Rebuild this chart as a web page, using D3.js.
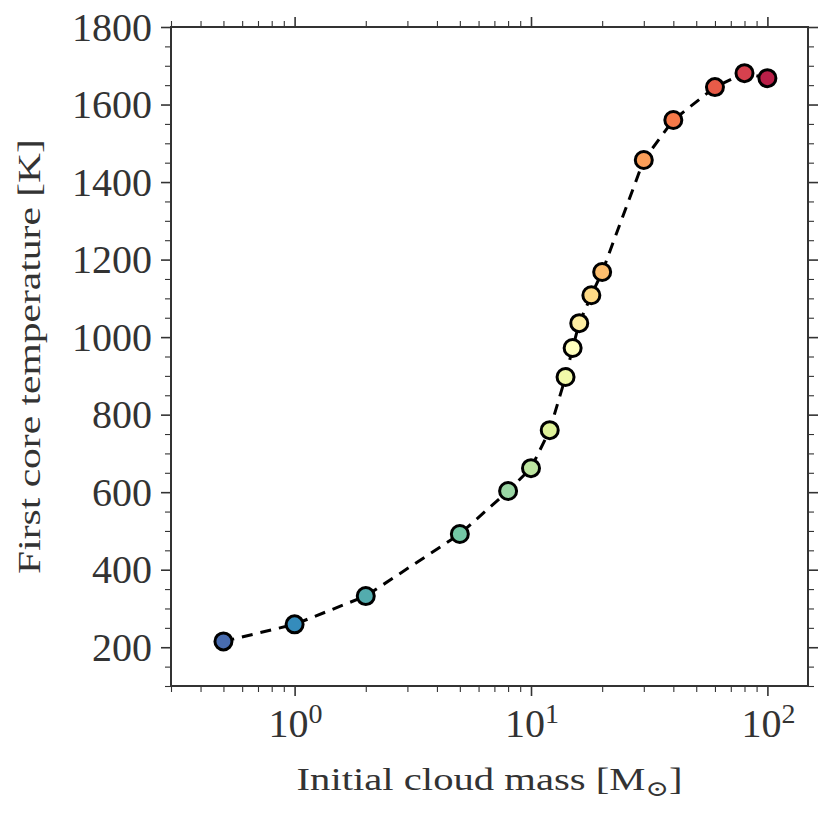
<!DOCTYPE html>
<html>
<head>
<meta charset="utf-8">
<script src="https://cdn.jsdelivr.net/npm/d3@7"></script>
<style>
  html, body { margin: 0; padding: 0; background: #fff; }
  svg { display: block; }
  text { font-family: "Liberation Serif", "DejaVu Serif", serif; fill: #333; }
</style>
</head>
<body>
<div id="chart"></div>
<script>
// ---- data ----
const masses = [0.5, 1, 2, 5, 8, 10, 12, 14, 15, 16, 18, 20, 30, 40, 60, 80, 100];
const temps  = [215, 259, 332, 492, 603, 662, 760, 897, 972, 1036, 1108, 1168, 1457, 1560, 1645, 1681, 1668];
const xMajorTicks = [1, 10, 100];
const xTickExponents = ["0", "1", "2"];
const yMajorTicks = [200, 400, 600, 800, 1000, 1200, 1400, 1600, 1800];
const xLabel = "Initial cloud mass [M";
const xLabelSub = "\u2299";
const yLabel = "First core temperature [K]";

// ---- layout ----
const W = 830, H = 819;
const L = 171, R = 808, T = 27, B = 686;
const ink = "#333";

const svg = d3.select("#chart").append("svg").attr("width", W).attr("height", H);

const x = d3.scaleLog().domain([0.3, 148.5]).range([L, R]);
const y = d3.scaleLinear().domain([100, 1800]).range([B, T]);

// matplotlib Spectral stops (reversed usage)
const spectral = ["#9e0142","#d53e4f","#f46d43","#fdae61","#fee08b","#ffffbf","#e6f598","#abdda4","#66c2a5","#3288bd","#5e4fa2"];
const spec = d3.piecewise(d3.interpolateRgb, spectral);
const n = masses.length;
const color = i => spec(1 - (0.05 + 0.9 * i / (n - 1)));

// minor ticks
const xMinor = [];
for (let e = -1; e <= 2; e++) for (let k = 2; k <= 9; k++) {
  const v = k * Math.pow(10, e);
  if (v >= 0.3 && v <= 148.5) xMinor.push(v);
}
const yMinor = d3.range(100, 1801, 50).filter(v => v % 200 !== 0);

// axes via d3 axis generators
const mk = (gen, tr) => svg.append("g").attr("transform", tr).call(gen);
const styleAxis = g => {
  g.select(".domain").remove();
  g.selectAll("line").attr("stroke", ink).attr("stroke-width", 1.6);
  g.selectAll("text").remove();
};
styleAxis(mk(d3.axisBottom(x).tickValues(xMajorTicks).tickSize(10), `translate(0,${B})`));
styleAxis(mk(d3.axisTop(x).tickValues(xMajorTicks).tickSize(10), `translate(0,${T})`));
styleAxis(mk(d3.axisLeft(y).tickValues(yMajorTicks).tickSize(10), `translate(${L},0)`));
styleAxis(mk(d3.axisRight(y).tickValues(yMajorTicks).tickSize(10), `translate(${R},0)`));
const styleMinor = g => { styleAxis(g); g.selectAll("line").attr("stroke-width", 1.1); };
styleMinor(mk(d3.axisBottom(x).tickValues(xMinor).tickSize(6), `translate(0,${B})`));
styleMinor(mk(d3.axisTop(x).tickValues(xMinor).tickSize(6), `translate(0,${T})`));
styleMinor(mk(d3.axisLeft(y).tickValues(yMinor).tickSize(6), `translate(${L},0)`));
styleMinor(mk(d3.axisRight(y).tickValues(yMinor).tickSize(6), `translate(${R},0)`));

// frame
svg.append("rect").attr("x", L).attr("y", T).attr("width", R - L).attr("height", B - T)
  .attr("fill", "none").attr("stroke", ink).attr("stroke-width", 2);

// y tick labels
svg.append("g").selectAll("text").data(yMajorTicks).join("text")
  .attr("x", L - 19).attr("y", d => y(d) + 13.5)
  .attr("text-anchor", "end").attr("font-size", 40).attr("fill", "#3a3a3a").text(d => d);

// x tick labels 10^n
const xl = svg.append("g").selectAll("text").data(xMajorTicks).join("text")
  .attr("x", d => x(d) + 1).attr("y", B + 51)
  .attr("text-anchor", "middle").attr("font-size", 40).attr("fill", "#3a3a3a");
xl.append("tspan").text("10");
xl.append("tspan").attr("dy", -14).attr("font-size", 28).text((d, i) => xTickExponents[i]);

// axis labels (stretched horizontally to match wider reference face)
function fitWidth(sel, cx, target) {
  const bb = sel.node().getBBox();
  const s = target / bb.width;
  sel.attr("transform", `translate(${cx},0) scale(${s},1) translate(${-cx},0)`);
}
const xt = svg.append("text").attr("x", 489.5).attr("y", 790)
  .attr("text-anchor", "middle").attr("font-size", 32).attr("fill", "#222");
xt.append("tspan").text(xLabel);
xt.append("tspan").attr("dy", 6).attr("font-size", 22).attr("font-family", "DejaVu Serif").text(xLabelSub);
xt.append("tspan").attr("dy", -6).text("]");
fitWidth(xt, 489.5, 386);

const ytG = svg.append("g").attr("transform", `translate(40,${(T + B) / 2}) rotate(-90)`);
const yt = ytG.append("text").attr("x", 0).attr("y", 0)
  .attr("text-anchor", "middle").attr("font-size", 32).attr("fill", "#222").text(yLabel);
fitWidth(yt, 0, 435);

// dashed line
const line = d3.line().x((d, i) => x(masses[i])).y(d => y(d));
svg.append("path").datum(temps).attr("d", line)
  .attr("fill", "none").attr("stroke", "#000").attr("stroke-width", 3)
  .attr("stroke-dasharray", "11,8");

// markers
svg.append("g").selectAll("circle").data(temps).join("circle")
  .attr("cx", (d, i) => x(masses[i])).attr("cy", d => y(d)).attr("r", 8.5)
  .attr("fill", (d, i) => color(i)).attr("stroke", "#000").attr("stroke-width", 3);
</script>
</body>
</html>
